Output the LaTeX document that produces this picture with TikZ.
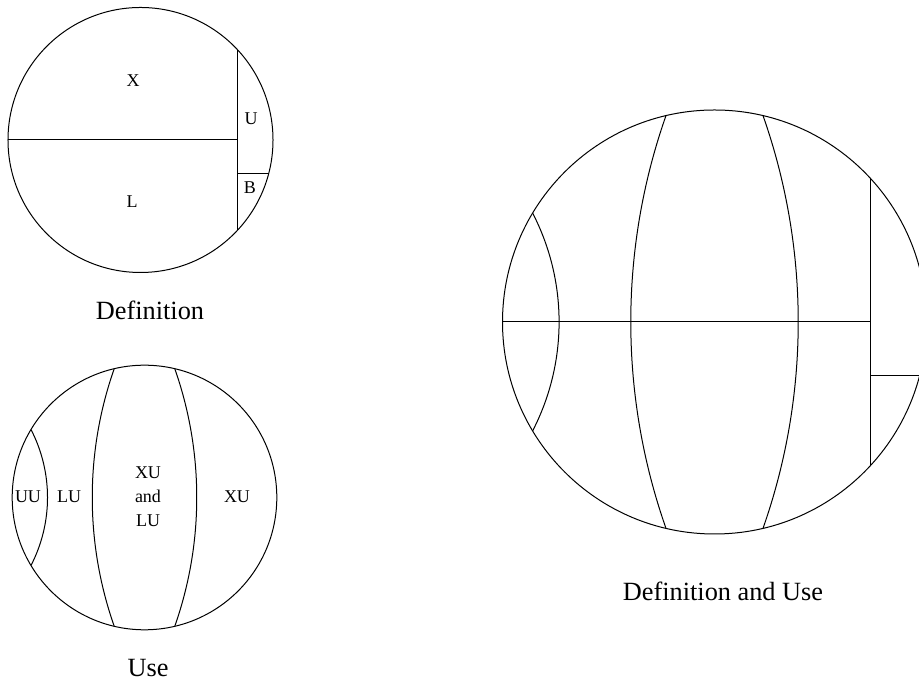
\documentclass[tikz,border=0pt]{standalone}
\usepackage{fontspec}
\setmainfont{Liberation Serif}
\tikzset{
  region/.style={line width=1pt},
  lbl/.style={inner sep=0pt, font=\fontsize{18}{24}\selectfont, align=center},
  captxt/.style={inner sep=0pt, font=\fontsize{26.3}{30}\selectfont},
}
\begin{document}
\begin{tikzpicture}
\useasboundingbox (0,0) rectangle (919pt,684pt);
% Definition circle
\begin{scope}[shift={(140.5pt,544pt)}, scale=4.657, region]
  \draw (0,0) circle (1);
  \draw (-1,0) -- (0.735,0);
  \draw (0.735,0.678) -- (0.735,-0.678);
  \draw (0.735,-0.253) -- (0.9675,-0.253);
\end{scope}
% Use circle
\begin{scope}[shift={(144.5pt,186.5pt)}, scale=4.650, region]
  \draw (0,0) circle (1);
  \draw (-0.858,0.514) arc[start angle=27.34, end angle=-27.34, radius=1.119];
  \draw (-0.229,0.973) arc[start angle=160.64, end angle=199.36, radius=2.935];
  \draw (0.229,0.973) arc[start angle=19.36, end angle=-19.36, radius=2.935];
\end{scope}
% Definition and Use circle
\begin{scope}[shift={(714.5pt,362pt)}, scale=7.451, region]
  \draw (0,0) circle (1);
  \draw (-1,0) -- (0.735,0);
  \draw (0.735,0.678) -- (0.735,-0.678);
  \draw (0.735,-0.253) -- (0.9675,-0.253);
  \draw (-0.858,0.514) arc[start angle=27.34, end angle=-27.34, radius=1.119];
  \draw (-0.229,0.973) arc[start angle=160.64, end angle=199.36, radius=2.935];
  \draw (0.229,0.973) arc[start angle=19.36, end angle=-19.36, radius=2.935];
\end{scope}
% labels
\node[lbl] (x) at (133pt,603pt) {X};
\node[lbl] (u) at (251pt,565pt) {U};
\node[lbl] (l) at (132pt,482pt) {L};
\node[lbl] (b) at (250pt,496pt) {B};
\node[lbl] (uu) at (28pt,187pt) {UU};
\node[lbl] (lu) at (69pt,187pt) {LU};
\node[lbl] (xulu) at (148pt,187pt) {XU\\and\\LU};
\node[lbl] (xu) at (237pt,187pt) {XU};
\node[captxt] (def) at (150pt,373.5pt) {Definition};
\node[captxt] (use) at (148pt,15.5pt) {Use};
\node[captxt] (defuse) at (723pt,92.5pt) {Definition and Use};
\end{tikzpicture}
\end{document}
